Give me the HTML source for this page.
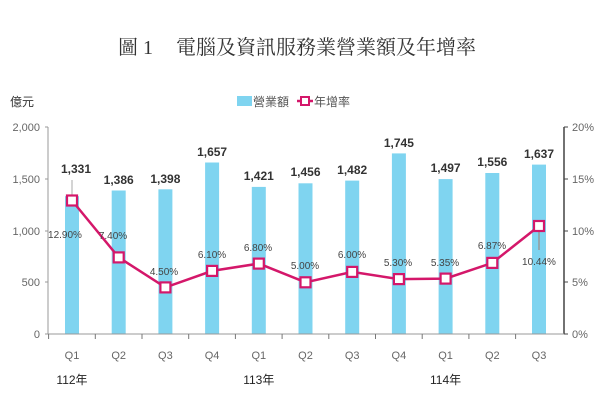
<!DOCTYPE html>
<html><head><meta charset="utf-8"><style>
html,body{margin:0;padding:0;background:#fff;width:600px;height:400px;overflow:hidden}
svg text{font-family:"Liberation Sans","Noto Sans CJK TC",sans-serif}
</style></head><body>
<svg width="600" height="400" viewBox="0 0 600 400" xmlns="http://www.w3.org/2000/svg">
<text x="118" y="54" font-size="20" fill="#333" style="font-family:'Liberation Serif','Noto Serif CJK SC',serif">圖 1</text>
<text x="176" y="54" font-size="20" fill="#333" letter-spacing="0" style="font-family:'Liberation Serif','Noto Serif CJK SC',serif">電腦及資訊服務業營業額及年增率</text>
<text x="10" y="106" font-size="12" fill="#333">億元</text>
<rect x="237" y="96" width="15" height="10" fill="#7fd4f0"/>
<text x="253" y="106" font-size="12" fill="#555">營業額</text>
<line x1="297" y1="101" x2="313" y2="101" stroke="#d4176a" stroke-width="2.5"/>
<rect x="301" y="97" width="8" height="8" fill="#fff" stroke="#d4176a" stroke-width="2"/>
<text x="314" y="106" font-size="12" fill="#555">年增率</text>
<g font-size="11" fill="#666" text-anchor="end">
<text x="40" y="131">2,000</text><text x="40" y="183">1,500</text><text x="40" y="235">1,000</text><text x="40" y="286">500</text><text x="40" y="338">0</text>
</g>
<g font-size="11" fill="#666">
<text x="572" y="131">20%</text><text x="572" y="183">15%</text><text x="572" y="235">10%</text><text x="572" y="286">5%</text><text x="572" y="338">0%</text>
</g>
<line x1="48" y1="127" x2="48" y2="334" stroke="#999"/>
<g stroke="#999"><line x1="45" y1="127" x2="48" y2="127"/><line x1="45" y1="179" x2="48" y2="179"/><line x1="45" y1="231" x2="48" y2="231"/><line x1="45" y1="282" x2="48" y2="282"/><line x1="45" y1="334" x2="48" y2="334"/></g>
<line x1="564" y1="127" x2="564" y2="334" stroke="#444" stroke-width="1.5"/>
<g stroke="#444"><line x1="564" y1="127" x2="568" y2="127"/><line x1="564" y1="179" x2="568" y2="179"/><line x1="564" y1="231" x2="568" y2="231"/><line x1="564" y1="282" x2="568" y2="282"/><line x1="564" y1="334" x2="568" y2="334"/></g>
<g fill="#7fd4f0">
<rect x="65" y="196.2" width="14" height="137.8"/>
<rect x="111.7" y="190.5" width="14" height="143.5"/>
<rect x="158.4" y="189.3" width="14" height="144.7"/>
<rect x="205.1" y="162.5" width="14" height="171.5"/>
<rect x="251.8" y="186.9" width="14" height="147.1"/>
<rect x="298.5" y="183.3" width="14" height="150.7"/>
<rect x="345.2" y="180.6" width="14" height="153.4"/>
<rect x="391.9" y="153.4" width="14" height="180.6"/>
<rect x="438.6" y="179.1" width="14" height="154.9"/>
<rect x="485.3" y="173" width="14" height="161"/>
<rect x="532" y="164.6" width="14" height="169.4"/>
</g>
<line x1="48" y1="334" x2="564" y2="334" stroke="#999"/>
<g stroke="#777">
<line x1="48.6" y1="334" x2="48.6" y2="339"/><line x1="95.3" y1="334" x2="95.3" y2="339"/><line x1="142" y1="334" x2="142" y2="339"/><line x1="188.7" y1="334" x2="188.7" y2="339"/><line x1="235.4" y1="334" x2="235.4" y2="339"/><line x1="282.1" y1="334" x2="282.1" y2="339"/><line x1="328.8" y1="334" x2="328.8" y2="339"/><line x1="375.5" y1="334" x2="375.5" y2="339"/><line x1="422.2" y1="334" x2="422.2" y2="339"/><line x1="468.9" y1="334" x2="468.9" y2="339"/><line x1="515.6" y1="334" x2="515.6" y2="339"/>
</g>
<g font-size="11" fill="#666" text-anchor="middle">
<text x="72" y="359">Q1</text><text x="118.7" y="359">Q2</text><text x="165.4" y="359">Q3</text><text x="212.1" y="359">Q4</text><text x="258.8" y="359">Q1</text><text x="305.5" y="359">Q2</text><text x="352.2" y="359">Q3</text><text x="398.9" y="359">Q4</text><text x="445.6" y="359">Q1</text><text x="492.3" y="359">Q2</text><text x="539" y="359">Q3</text>
</g>
<g font-size="12" fill="#222" text-anchor="middle">
<text x="72" y="384">112年</text><text x="258.8" y="384">113年</text><text x="445.6" y="384">114年</text>
</g>
<g font-size="12" font-weight="bold" fill="#333" text-anchor="middle">
<text x="76" y="173">1,331</text><text x="118.7" y="184">1,386</text><text x="165.4" y="183">1,398</text><text x="212.1" y="156">1,657</text><text x="258.8" y="180">1,421</text><text x="305.5" y="176">1,456</text><text x="352.2" y="174">1,482</text><text x="398.9" y="147">1,745</text><text x="445.6" y="172">1,497</text><text x="492.3" y="166">1,556</text><text x="539" y="158">1,637</text>
</g>
<line x1="72" y1="180" x2="72" y2="196" stroke="#aaa"/>
<line x1="539" y1="228" x2="539" y2="250" stroke="#999" stroke-width="1.5"/>
<polyline fill="none" stroke="#d4176a" stroke-width="2.5" points="72,200.5 118.7,257.4 165.4,287.4 212.1,270.9 258.8,263.6 305.5,282.3 352.2,271.9 398.9,279.1 445.6,278.6 492.3,262.9 539,226"/>
<g fill="#fff" stroke="#d4176a" stroke-width="2.2">
<rect x="67" y="195.5" width="10" height="10"/><rect x="113.7" y="252.4" width="10" height="10"/><rect x="160.4" y="282.4" width="10" height="10"/><rect x="207.1" y="265.9" width="10" height="10"/><rect x="253.8" y="258.6" width="10" height="10"/><rect x="300.5" y="277.3" width="10" height="10"/><rect x="347.2" y="266.9" width="10" height="10"/><rect x="393.9" y="274.1" width="10" height="10"/><rect x="440.6" y="273.6" width="10" height="10"/><rect x="487.3" y="257.9" width="10" height="10"/><rect x="534" y="221" width="10" height="10"/>
</g>
<g font-size="10" fill="#444" text-anchor="middle">
<text x="65" y="238">12.90%</text><text x="113" y="239">7.40%</text><text x="164" y="275">4.50%</text><text x="212" y="258">6.10%</text><text x="258" y="251">6.80%</text><text x="305" y="269">5.00%</text><text x="352" y="258">6.00%</text><text x="398" y="266">5.30%</text><text x="445" y="266">5.35%</text><text x="492" y="249">6.87%</text><text x="539" y="265">10.44%</text>
</g>
</svg>
</body></html>
